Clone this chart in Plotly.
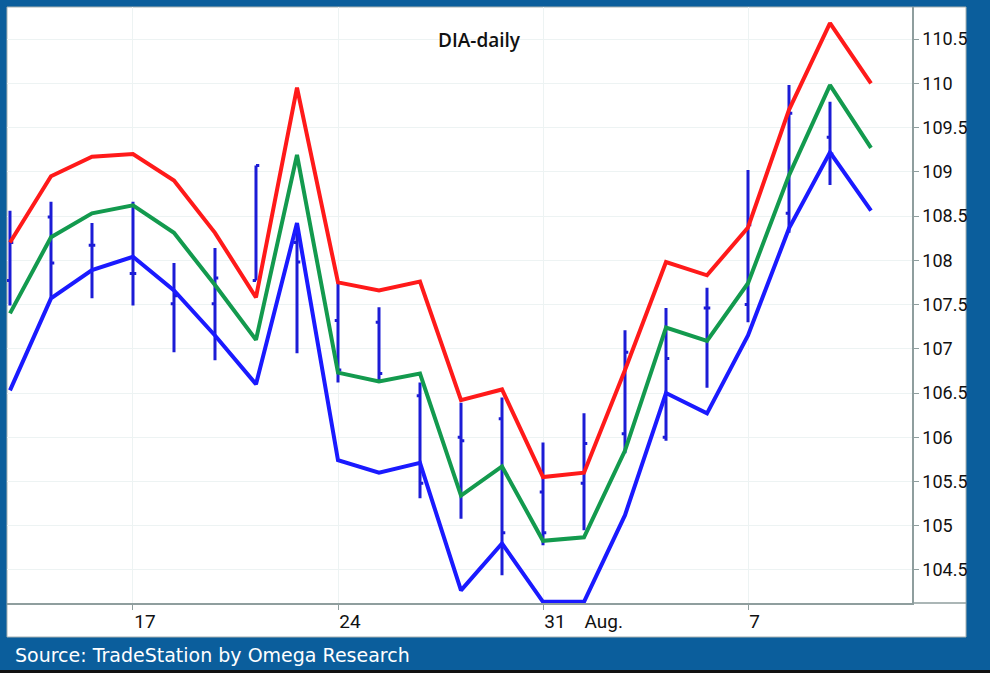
import plotly.graph_objects as go

# ---- data ----
dates = ["Jul 12", "Jul 13", "Jul 14", "Jul 17", "Jul 18", "Jul 19", "Jul 20", "Jul 21",
         "Jul 24", "Jul 25", "Jul 26", "Jul 27", "Jul 28", "Jul 31", "Aug 1", "Aug 2",
         "Aug 3", "Aug 4", "Aug 7", "Aug 8", "Aug 9", "Aug 10"]

upper = [108.20, 108.95, 109.17, 109.20, 108.90, 108.31, 107.58, 109.95, 107.75, 107.66, 107.76,
         106.42, 106.54, 105.55, 105.60, 106.76, 107.98, 107.83, 108.37, 109.70, 110.68, 110.00]
middle = [107.40, 108.26, 108.53, 108.62, 108.31, 107.72, 107.10, 109.19, 106.73, 106.63, 106.72,
          105.34, 105.67, 104.83, 104.87, 105.85, 107.24, 107.09, 107.74, 108.96, 109.98, 109.27]
lower = [106.53, 107.57, 107.89, 108.04, 107.66, 107.15, 106.60, 108.42, 105.74, 105.60, 105.71,
         104.27, 104.80, 104.14, 104.14, 105.12, 106.50, 106.27, 107.15, 108.36, 109.22, 108.56]

bar_dates = dates[:21]
opens = [107.77, 108.49, 108.17, 107.85, 107.51, 107.51, 107.77, 108.20, 107.32, 107.30, 106.47,
         106.00, 106.21, 105.38, 105.48, 106.04, 106.00, 107.46, 107.50, 108.53, 109.39]
highs = [108.56, 108.66, 108.42, 108.66, 107.97, 108.14, 109.07, 108.37, 107.74, 107.47, 106.62,
         106.39, 106.45, 105.94, 106.27, 107.21, 107.46, 107.69, 109.02, 109.98, 109.79]
lows = [107.49, 107.58, 107.57, 107.49, 106.96, 106.87, 107.77, 106.95, 106.62, 106.62, 105.31,
        105.08, 104.44, 104.78, 104.95, 105.82, 105.96, 106.56, 107.30, 108.31, 108.85]
closes = [108.20, 107.97, 108.17, 107.85, 107.60, 107.80, 109.07, 107.98, 106.76, 106.72, 105.48,
          105.96, 104.92, 104.92, 105.93, 106.96, 106.89, 107.46, 108.40, 109.66, 109.20]

tick_dates = ["Jul 17", "Jul 24", "Jul 31", "Aug 7"]
tick_labels = ["17", "24", "31\u00a0\u00a0\u00a0\u00a0Aug.", "7"]

title_text = "DIA-daily"
source_text = "Source: TradeStation by Omega Research"

# ---- figure ----
BG_BLUE = "#0b5e9c"
GRID = "#edf3f3"
AXIS = "#8f9e9e"

fig = go.Figure()

fig.add_trace(go.Ohlc(
    x=bar_dates, open=opens, high=highs, low=lows, close=closes,
    increasing=dict(line=dict(color="#1c1cd6", width=3)),
    decreasing=dict(line=dict(color="#1c1cd6", width=3)),
    tickwidth=0.08, showlegend=False, hoverinfo="skip",
))

for vals, col in [(upper, "#ff1a1a"), (middle, "#139a4e"), (lower, "#1a1aff")]:
    fig.add_trace(go.Scatter(
        x=dates, y=vals, mode="lines",
        line=dict(color=col, width=4),
        showlegend=False, hoverinfo="skip",
    ))

# plot area geometry (pixels)
W, H = 990, 673
L, R, T, B = 7, 912, 7, 603
pw, ph = R - L, B - T

def px(xp):
    return (xp - L) / pw

def py(yp):
    return (B - yp) / ph

fig.update_layout(
    width=W, height=H,
    margin=dict(l=L, r=W - R, t=T, b=H - B, pad=0),
    paper_bgcolor=BG_BLUE,
    plot_bgcolor="white",
    showlegend=False,
    xaxis=dict(
        type="category",
        categoryorder="array", categoryarray=dates,
        range=[-0.073, 22.0],
        rangeslider=dict(visible=False),
        tickmode="array", tickvals=tick_dates, ticktext=tick_labels,
        ticklabelposition="outside right",
        ticks="outside", ticklen=5, tickcolor=AXIS,
        tickfont=dict(family="Roboto", size=19, color="#111"),
        showgrid=True, gridcolor=GRID, gridwidth=1,
        showline=True, linecolor=AXIS, linewidth=1.5,
        zeroline=False, fixedrange=True,
    ),
    yaxis=dict(
        side="right",
        range=[104.127, 110.862],
        tick0=104.5, dtick=0.5,
        ticks="outside", ticklen=5, tickcolor=AXIS,
        tickfont=dict(family="Roboto", size=18, color="#111"),
        showgrid=True, gridcolor=GRID, gridwidth=1,
        showline=True, linecolor=AXIS, linewidth=1.5,
        zeroline=False, fixedrange=True,
    ),
    shapes=[
        dict(type="rect", xref="paper", yref="paper", layer="below",
             x0=px(7), x1=px(966), y0=py(637), y1=py(7),
             fillcolor="white", line=dict(color="#a7b1b1", width=1)),
        dict(type="line", xref="paper", yref="paper", layer="above",
             x0=px(912), x1=px(966), y0=0, y1=0,
             line=dict(color=AXIS, width=1.5)),
        dict(type="rect", xref="paper", yref="paper", layer="above",
             x0=px(0), x1=px(990), y0=py(673), y1=py(670),
             fillcolor="#111111", line=dict(width=0)),
    ],
    annotations=[
        dict(text=title_text, xref="paper", yref="paper",
             x=px(480), y=py(40), xanchor="center", yanchor="middle",
             showarrow=False,
             font=dict(family="Open Sans", size=19, color="#111", weight=600)),
        dict(text=source_text, xref="paper", yref="paper",
             x=px(13), y=py(655), xanchor="left", yanchor="middle",
             showarrow=False,
             font=dict(family="DejaVu Sans", size=19, color="white")),
    ],
)

fig.write_html(
    "out.html",
    config={"displayModeBar": False},
    post_script="document.body.style.margin='0';document.body.style.overflow='hidden';",
)
